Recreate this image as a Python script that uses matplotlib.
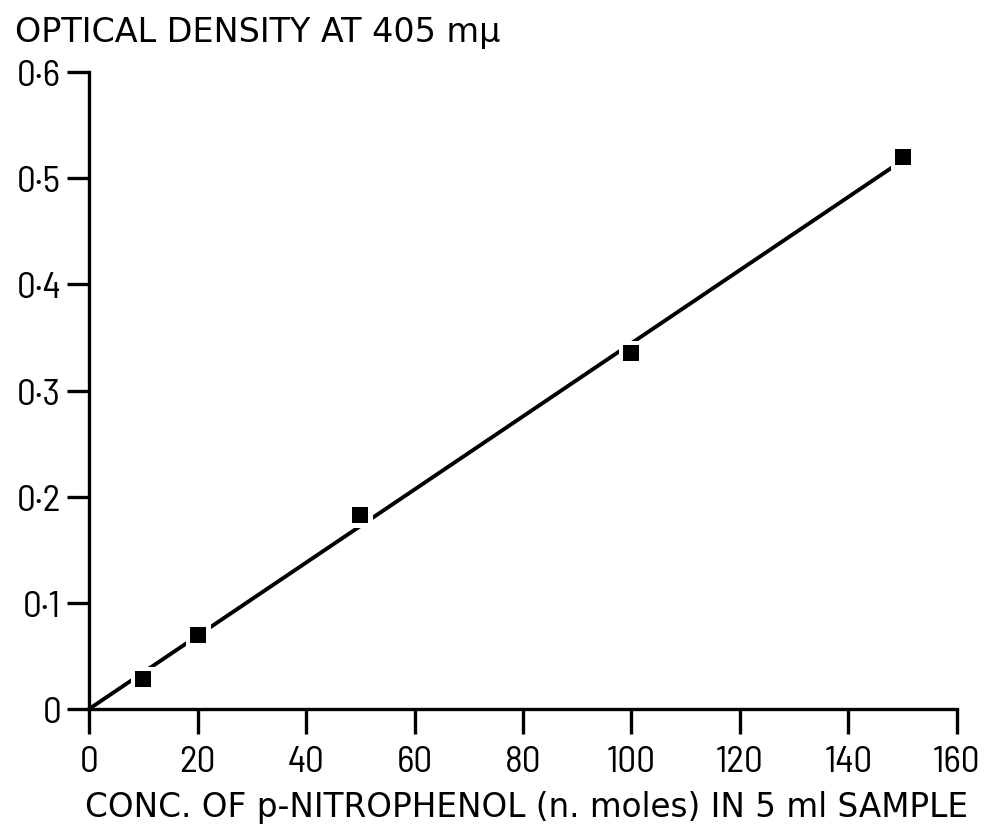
import numpy as np
import matplotlib.pyplot as plt

# calibration readings: p-nitrophenol amount vs optical density at 405 mμ
conc = [10, 20, 50, 100, 150]
density = [0.028, 0.070, 0.183, 0.335, 0.520]
x_ticks = [0, 20, 40, 60, 80, 100, 120, 140, 160]
y_ticks = [0, 0.1, 0.2, 0.3, 0.4, 0.5, 0.6]
y_tick_labels = ['0', '0·1', '0·2', '0·3', '0·4', '0·5', '0·6']

# least-squares line forced through the origin
x = np.array(conc, dtype=float)
y = np.array(density)
slope = np.sum(x * y) / np.sum(x * x)
fit_x = np.array([0, 150.0])
fit_y = slope * fit_x

fig = plt.figure(figsize=(9.88, 8.28), dpi=100)
ax = fig.add_axes([0.0901, 0.1425, 0.8785, 0.7693])

ax.plot(fit_x, fit_y, color='black', linewidth=2.8, clip_on=False, zorder=2)
# white square behind each point breaks the line around the marker
ax.plot(conc, density, linestyle='none', marker='s', markersize=18,
        color='white', markeredgewidth=0, zorder=3)
ax.plot(conc, density, linestyle='none', marker='s', markersize=11.5,
        color='black', markeredgewidth=0, zorder=4)

ax.set_xlim(0, 160)
ax.set_ylim(0, 0.6)
ax.spines['top'].set_visible(False)
ax.spines['right'].set_visible(False)
for side in ['left', 'bottom']:
    ax.spines[side].set_linewidth(2.4)

tick_font = {'family': ['Barlow Semi Condensed', 'DejaVu Sans'], 'size': 27}
ax.set_xticks(x_ticks)
ax.set_xticklabels([str(v) for v in x_ticks], fontdict=tick_font)
ax.set_yticks(y_ticks)
ax.set_yticklabels(y_tick_labels, fontdict=tick_font)
ax.tick_params(axis='x', direction='out', length=18, width=2.4, pad=8)
ax.tick_params(axis='y', direction='out', length=16, width=2.4, pad=4)

label_font = ['DejaVu Sans']
fig.text(0.015, 0.949, 'OPTICAL DENSITY AT 405 mμ', family=label_font,
         fontsize=24, va='baseline', ha='left')
fig.text(0.086, 0.0133, 'CONC. OF p-NITROPHENOL (n. moles) IN 5 ml SAMPLE',
         family=label_font, fontsize=23.5, va='baseline', ha='left')

fig.savefig('out.png', dpi=100)
